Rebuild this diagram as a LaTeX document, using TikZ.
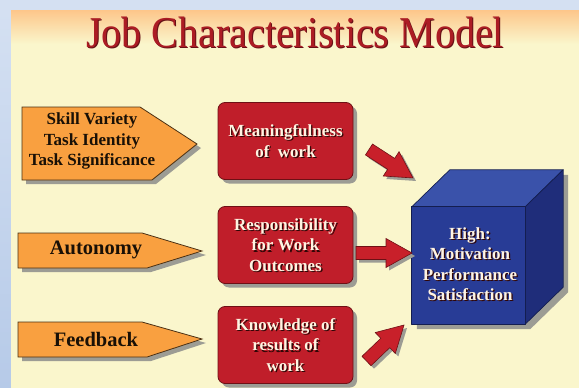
\documentclass[tikz,border=0pt]{standalone}
\usepackage{fontspec}
\setmainfont{Liberation Serif}
\usetikzlibrary{calc,shadows}
\definecolor{bgblue}{HTML}{D4E0F2}
\definecolor{stripbot}{HTML}{B6CAE8}
\definecolor{cream}{HTML}{FAF6CC}
\definecolor{bandor}{HTML}{FDC68A}
\definecolor{titred}{HTML}{AC1C24}
\definecolor{orfill}{HTML}{F9A040}
\definecolor{redfill}{HTML}{C01E2A}
\definecolor{redline}{HTML}{6E1015}
\definecolor{redarrc}{HTML}{C8202A}
\definecolor{shadowc}{HTML}{9C9C94}
\definecolor{cubefront}{HTML}{283C96}
\definecolor{cubetop}{HTML}{3A52AA}
\definecolor{cubeside}{HTML}{1F2D7A}
\definecolor{cubeline}{HTML}{141E50}
\definecolor{wtxt}{HTML}{FFF4E2}
\definecolor{wshadow}{HTML}{300606}
\newcommand\shadowtext[3]{%
  \node[wlab, text=wshadow] (#1s) at ($(#2)+(1.3,1.3)$) {#3};
  \node[wlab] (#1) at (#2) {#3};}
\newcommand\blockarr[3]{%
  \begin{scope}[shift={($(#1)+(3,3)$)}, rotate=#2]
    \fill[shadowc] (0,-6.5) -- ({#3-26},-6.5) -- ({#3-26},-14.5) -- (#3,0) -- ({#3-26},14.5) -- ({#3-26},6.5) -- (0,6.5) -- cycle;
  \end{scope}
  \begin{scope}[shift={(#1)}, rotate=#2]
    \filldraw[redarr] (0,-6.5) -- ({#3-26},-6.5) -- ({#3-26},-14.5) -- (#3,0) -- ({#3-26},14.5) -- ({#3-26},6.5) -- (0,6.5) -- cycle;
  \end{scope}}
\begin{document}
\begin{tikzpicture}[x=1pt,y=-1pt,
  orshape/.style={fill=orfill, draw=black!70!orfill, line width=0.8pt},
  orshadow/.style={fill=shadowc},
  orlab/.style={font=\fontsize{17}{20.5}\selectfont\bfseries, text=black!90!orfill, align=center, inner sep=0pt},
  orbig/.style={font=\fontsize{20.5}{24}\selectfont\bfseries, text=black!90!orfill, inner sep=0pt},
  redbox/.style={rectangle, rounded corners=7pt, fill=redfill, draw=redline, line width=0.8pt,
     minimum width=135pt, minimum height=77pt,
     drop shadow={shadow xshift=4pt, shadow yshift=-4pt, fill=shadowc, opacity=1}},
  wlab/.style={font=\fontsize{17}{20.5}\selectfont\bfseries, text=wtxt, align=center, inner sep=0pt},
  redarr/.style={fill=redarrc, draw=redline, line width=0.6pt, line join=miter},
  cubeface/.style={draw=cubeline, line width=0.7pt, line join=round},
  titlefont/.style={font=\fontsize{40}{44}\selectfont, anchor=base, inner sep=0pt}
]
\useasboundingbox (0,0) rectangle (579,388);
% background
\fill[bgblue] (0,0) rectangle (579,388);
\shade[top color=bgblue, bottom color=stripbot] (0,10) rectangle (11,388);
\fill[cream] (11,10) rectangle (579,388);
\shade[top color=bandor, bottom color=cream] (11,10) rectangle (579,44);
% title
\node[titlefont, text=titred!60!black] (titleshadow) at (296,48) {\scalebox{1}[1.1]{Job Characteristics Model}};
\node[titlefont, text=titred] (title) at (295,47) {\scalebox{1}[1.1]{Job Characteristics Model}};
% orange input arrows
\fill[orshadow] (26,111) -- (144,111) -- (201,148) -- (156,184) -- (26,184) -- cycle;
\filldraw[orshape] (22,107) -- (140,107) -- (197,144) -- (152,180) -- (22,180) -- cycle;
\node[orlab] (sv) at (92,141) {Skill Variety\\Task Identity\\Task Significance};
\fill[orshadow] (22,237) -- (146,237) -- (206,255) -- (151,272) -- (22,272) -- cycle;
\filldraw[orshape] (18,233) -- (142,233) -- (202,251) -- (147,268) -- (18,268) -- cycle;
\node[orbig] (au) at (96,250) {Autonomy};
\fill[orshadow] (22,326) -- (146,326) -- (206,343) -- (151,361) -- (22,361) -- cycle;
\filldraw[orshape] (18,322) -- (142,322) -- (202,339) -- (147,357) -- (18,357) -- cycle;
\node[orbig] (fb) at (96,339) {Feedback};
% red boxes
\node[redbox] (m1) at (285.5,141) {};
\node[redbox] (m2) at (285.5,245) {};
\node[redbox] (m3) at (285.5,345) {};
\shadowtext{m1t}{m1}{Meaningfulness\\of \ work}
\shadowtext{m2t}{m2}{Responsibility\\for Work\\Outcomes}
\shadowtext{m3t}{m3}{Knowledge of\\results of\\work}
% cube
\node[minimum width=113pt, minimum height=117pt, inner sep=0pt] (out) at (468.5,265.5) {};
\fill[shadowc] ($(out.north west)+(5,5)$) -- ($(out.north west)+(43,-32)$) -- ($(out.north east)+(43,-32)$)
   -- ($(out.south east)+(43,-32)$) -- ($(out.south east)+(5,5)$) -- ($(out.south west)+(5,5)$) -- cycle;
\filldraw[cubeface, fill=cubetop] (out.north west) -- ($(out.north west)+(38,-37)$) -- ($(out.north east)+(38,-37)$) -- (out.north east) -- cycle;
\filldraw[cubeface, fill=cubeside] (out.north east) -- ($(out.north east)+(38,-37)$) -- ($(out.south east)+(38,-37)$) -- (out.south east) -- cycle;
\filldraw[cubeface, fill=cubefront] (out.north west) rectangle (out.south east);
\shadowtext{outt}{470,264}{High:\\Motivation\\Performance\\Satisfaction}
% red block arrows
\coordinate (a1s) at (369,149.5);
\coordinate (a2s) at (356,253);
\coordinate (a3s) at (366.5,361);
\blockarr{a1s}{-32.9}{52.4}
\blockarr{a2s}{0}{56}
\blockarr{a3s}{43.8}{52}
\end{tikzpicture}
\end{document}
